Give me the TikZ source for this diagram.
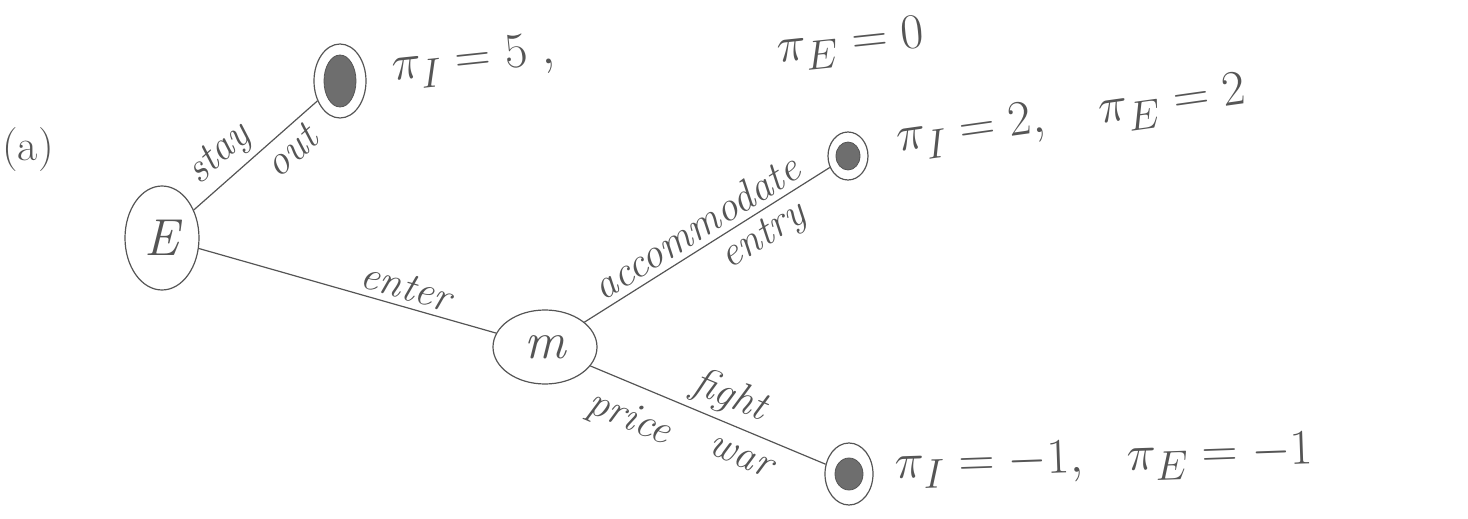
\documentclass[tikz,border=0pt]{standalone}
\usepackage{amsmath}
\usetikzlibrary{shapes.geometric}
\definecolor{pencil}{HTML}{555555}
\begin{document}
\begin{tikzpicture}[x=0.5pt,y=-0.5pt,
  pen/.style={draw=pencil, line width=0.6pt},
  decision/.style={pen, ellipse, inner sep=0pt, font=\fontsize{26}{28}\selectfont\itshape, text=pencil},
  leafnode/.style={pen, ellipse, inner sep=0pt},
  core/.style={fill=pencil!85, draw=pencil, ellipse},
  branchlbl/.style={sloped, font=\fontsize{21}{23}\selectfont\itshape, text=pencil, inner sep=3pt},
  payoff/.style={font=\fontsize{28}{30}\selectfont, text=pencil, anchor=west, inner sep=1pt}
]
\useasboundingbox (0,0) rectangle (1468,519);

% part label
\node[font=\fontsize{22}{24}\selectfont, text=pencil] (part) at (28,150) {(a)};

% decision nodes
\node[decision, minimum width=37pt, minimum height=52pt] (E) at (162,238) {E};
\node[decision, minimum width=52pt, minimum height=37pt] (M) at (545,347) {m};

% terminal nodes
\node[leafnode, minimum width=26pt, minimum height=37pt] (T1) at (340,81) {};
\node[leafnode, minimum width=20pt, minimum height=24pt] (T2) at (848,156) {};
\node[leafnode, minimum width=24pt, minimum height=31pt] (T3) at (849,474) {};
\fill[core] (T1.center) ellipse (8pt and 13pt);
\fill[core] (T2.center) ellipse (6pt and 7pt);
\fill[core] (T3.center) ellipse (7pt and 8pt);

% branches
\draw[pen] (E) -- node[branchlbl, above, pos=0.34] {stay} node[branchlbl, below, pos=0.68] {out} (T1);
\draw[pen] (E) -- node[branchlbl, above, pos=0.68] {enter} (M);
\draw[pen] (M) -- node[branchlbl, above, pos=0.5] {accommodate} node[branchlbl, below, pos=0.68] {entry} (T2);
\draw[pen] (M) -- node[branchlbl, above, pos=0.55] {fight}
                  node[branchlbl, below, inner sep=8pt, pos=0.22] {price}
                  node[branchlbl, below, inner sep=8pt, pos=0.68] {war} (T3);

% payoffs
\node[payoff, rotate=6] (P1a) at (390,70) {$\pi_I = 5\;,$};
\node[payoff, rotate=6] (P1b) at (775,52) {$\pi_E = 0$};
\node[payoff, rotate=8] (P2a) at (895,142) {$\pi_I = 2,$};
\node[payoff, rotate=8] (P2b) at (1097,114) {$\pi_E = 2$};
\node[payoff, rotate=2] (P3a) at (893,468) {$\pi_I = -1,$};
\node[payoff, rotate=2] (P3b) at (1125,460) {$\pi_E = -1$};
\end{tikzpicture}
\end{document}
